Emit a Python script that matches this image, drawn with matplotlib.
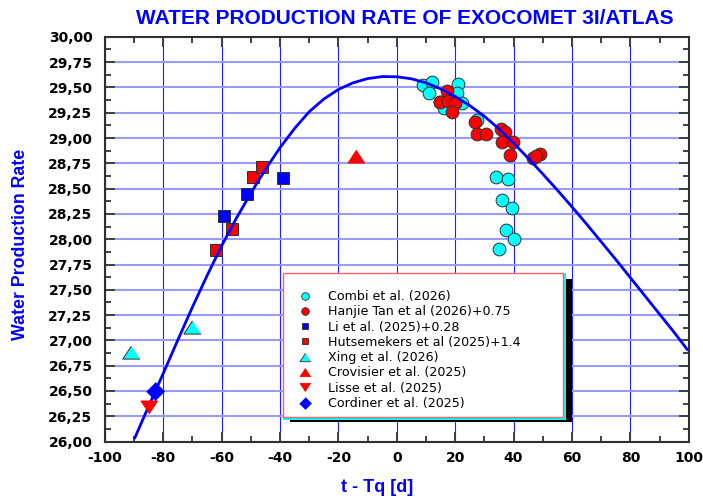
import matplotlib
matplotlib.use("Agg")
import matplotlib.pyplot as plt
from matplotlib.ticker import MultipleLocator, FuncFormatter
from matplotlib.patches import Rectangle
from matplotlib.lines import Line2D

# ---------------- data ----------------
curve_x = [-89.7, -85, -80, -75, -70, -65, -60, -55, -50, -45, -40, -35, -30, -25, -20,
           -15, -10, -5, 0, 5, 10, 15, 20, 25, 30, 35, 40, 45, 50, 55, 60, 65, 70, 75,
           80, 85, 90, 95, 99.5]
curve_y = [26.04, 26.35, 26.675, 27.005, 27.33, 27.64, 27.935, 28.205, 28.455, 28.69,
           28.905, 29.095, 29.26, 29.385, 29.48, 29.545, 29.587, 29.607, 29.605, 29.585,
           29.545, 29.485, 29.41, 29.32, 29.215, 29.09, 28.95, 28.80, 28.645, 28.485,
           28.32, 28.15, 27.975, 27.80, 27.62, 27.44, 27.26, 27.08, 26.91]

combi_x = [9.0, 12.1, 11.1, 21.0, 20.5, 22.2, 14.8, 16.0, 27.6,
           34.1, 38.2, 36.1, 39.5, 37.3, 40.2, 35.0]
combi_y = [29.52, 29.55, 29.44, 29.53, 29.44, 29.35, 29.36, 29.30, 29.18,
           28.61, 28.59, 28.39, 28.31, 28.09, 28.00, 27.90]

tan_x = [17.1, 14.8, 17.4, 19.9, 18.8, 26.7, 27.5, 30.7, 35.8, 37.0, 36.1, 39.8,
         38.7, 48.9, 46.6, 47.7]
tan_y = [29.46, 29.36, 29.37, 29.35, 29.26, 29.16, 29.04, 29.04, 29.09, 29.06,
         28.96, 28.96, 28.83, 28.84, 28.80, 28.82]

li_x = [-59.2, -51.2, -39.1]
li_y = [28.23, 28.45, 28.60]

hut_x = [-62.0, -56.3, -49.2, -46.1]
hut_y = [27.89, 28.10, 28.61, 28.71]

xing_x = [-90.9, -70.0]
xing_y = [26.89, 27.13]

crov_x = [-13.9]
crov_y = [28.82]

lisse_x = [-84.9]
lisse_y = [26.34]

cord_x = [-82.9]
cord_y = [26.50]

labels = ["Combi et al. (2026)", "Hanjie Tan et al (2026)+0.75", "Li et al. (2025)+0.28",
          "Hutsemekers et al (2025)+1.4", "Xing et al. (2026)", "Crovisier et al. (2025)",
          "Lisse et al. (2025)", "Cordiner et al. (2025)"]

title = "WATER PRODUCTION RATE OF EXOCOMET 3I/ATLAS"
xlabel = "t - Tq [d]"
ylabel = "Water Production Rate"

# ---------------- figure ----------------
W, H = 703, 499
fig = plt.figure(figsize=(W / 100, H / 100), dpi=100)
L, R, T, B = 104.9, 688.7, 36.8, 441.6
ax = fig.add_axes([L / W, 1 - B / H, (R - L) / W, (B - T) / H])
ax.set_xlim(-100, 100)
ax.set_ylim(26, 30)

ax.xaxis.set_major_locator(MultipleLocator(20))
ax.xaxis.set_minor_locator(MultipleLocator(10))
ax.yaxis.set_major_locator(MultipleLocator(0.25))
ax.yaxis.set_minor_locator(MultipleLocator(0.125))
ax.yaxis.set_major_formatter(FuncFormatter(lambda v, p: f"{v:.2f}".replace(".", ",")))
ax.xaxis.set_major_formatter(FuncFormatter(lambda v, p: f"{v:.0f}"))

ax.grid(True, axis="y", which="major", color="#9a9aff", lw=1.5, zorder=0)
ax.grid(True, axis="x", which="major", color="#2020ff", lw=0.8, zorder=0)
ax.set_axisbelow(True)

ax.tick_params(which="both", direction="in", top=True, right=True, color="#404040",
               width=1.4)
ax.tick_params(which="major", length=7)
ax.tick_params(which="minor", length=4)
ax.tick_params(axis="x", which="major", pad=7)
ax.tick_params(axis="y", which="major", pad=9)
for lab in ax.get_xticklabels() + ax.get_yticklabels():
    lab.set_fontweight("bold")
    lab.set_fontsize(10)
    lab.set_family("DejaVu Sans")
for s in ax.spines.values():
    s.set_color("#303030")
    s.set_linewidth(1.5)

# curve
ax.plot(curve_x, curve_y, color="#0000ff", lw=2.0, zorder=3, solid_joinstyle="round")

tri_up = [(0, 0.76), (-1, -0.76), (1, -0.76)]
tri_dn = [(0, -0.76), (-1, 0.76), (1, 0.76)]
diam = [(0, 1), (1, 0), (0, -1), (-1, 0)]
ec = "#303030"

ax.plot(combi_x, combi_y, "o", ms=9.2, mfc="#00ffff", mec=ec, mew=0.7, ls="none", zorder=2)
ax.plot(tan_x, tan_y, "o", ms=9.2, mfc="#ff0000", mec=ec, mew=0.7, ls="none", zorder=2)
ax.plot(li_x, li_y, "s", ms=8, mfc="#0000ff", mec=ec, mew=0.7, ls="none", zorder=2)
ax.plot(hut_x, hut_y, "s", ms=8, mfc="#ff0000", mec=ec, mew=0.7, ls="none", zorder=2)
ax.plot(xing_x, xing_y, marker=tri_up, ms=12.5, mfc="#00ffff", mec=ec, mew=0.7, ls="none", zorder=4)
ax.plot(crov_x, crov_y, marker=tri_up, ms=12.5, mfc="#ff0000", mec="#ff0000", mew=0.5, ls="none", zorder=4)
ax.plot(lisse_x, lisse_y, marker=tri_dn, ms=12.5, mfc="#ff0000", mec="#ff0000", mew=0.5, ls="none", zorder=4)
ax.plot(cord_x, cord_y, marker=diam, ms=13, mfc="#0000ff", mec="#0000ff", mew=0.5, ls="none", zorder=4)

# legend box
def ax_xy(px, py):
    return (px - L) / (R - L), (B - py) / (B - T)

x0, y1 = ax_xy(289.5, 278.5)
x1, y0 = ax_xy(572, 422)
ax.add_patch(Rectangle((x0, y0), x1 - x0, y1 - y0, transform=ax.transAxes,
                       facecolor="black", edgecolor="none", zorder=5))
x0, y1 = ax_xy(283, 273)
x1, y0 = ax_xy(566, 419.5)
ax.add_patch(Rectangle((x0, y0), x1 - x0, y1 - y0, transform=ax.transAxes,
                       facecolor="#00ffff", edgecolor="none", zorder=5))
x0, y1 = ax_xy(283, 273)
x1, y0 = ax_xy(563, 416.5)
ax.add_patch(Rectangle((x0, y0), x1 - x0, y1 - y0, transform=ax.transAxes,
                       facecolor="white", edgecolor="#ff6060", lw=1.0, zorder=5))

handles = [
    Line2D([], [], marker="o", ms=5.5, mfc="#00ffff", mec=ec, mew=0.6, ls="none"),
    Line2D([], [], marker="o", ms=5.5, mfc="#ff0000", mec=ec, mew=0.6, ls="none"),
    Line2D([], [], marker="s", ms=5, mfc="#0000ff", mec=ec, mew=0.6, ls="none"),
    Line2D([], [], marker="s", ms=5, mfc="#ff0000", mec=ec, mew=0.6, ls="none"),
    Line2D([], [], marker=tri_up, ms=8, mfc="#00ffff", mec=ec, mew=0.6, ls="none"),
    Line2D([], [], marker=tri_up, ms=8, mfc="#ff0000", mec="#ff0000", mew=0.5, ls="none"),
    Line2D([], [], marker=tri_dn, ms=8, mfc="#ff0000", mec="#ff0000", mew=0.5, ls="none"),
    Line2D([], [], marker=diam, ms=8.5, mfc="#0000ff", mec="#0000ff", mew=0.5, ls="none"),
]
lx, ly = ax_xy(298.5, 290.0)
leg = ax.legend(handles, labels, loc="upper left", bbox_to_anchor=(lx, ly),
                bbox_transform=ax.transAxes, frameon=False, borderpad=0, borderaxespad=0,
                handlelength=1.0, handletextpad=1.3, labelspacing=0.18,
                prop={"family": "DejaVu Sans", "size": 9.1})
leg.set_zorder(6)

# texts
fig.text(404.5 / W, 1 - 19 / H, title, ha="center", va="center", color="#0000ff",
         fontsize=15, fontweight="bold", family="Liberation Sans")
fig.text(376.7 / W, 1 - 488 / H, xlabel, ha="center", va="center", color="#0000ff",
         fontsize=13, fontweight="bold", family="Liberation Sans")
fig.text(20.7 / W, 1 - 244 / H, ylabel, ha="center", va="center", rotation=90,
         color="#0000ff", fontsize=12.8, fontweight="bold", family="Liberation Sans")

fig.savefig("out.png", dpi=100)
